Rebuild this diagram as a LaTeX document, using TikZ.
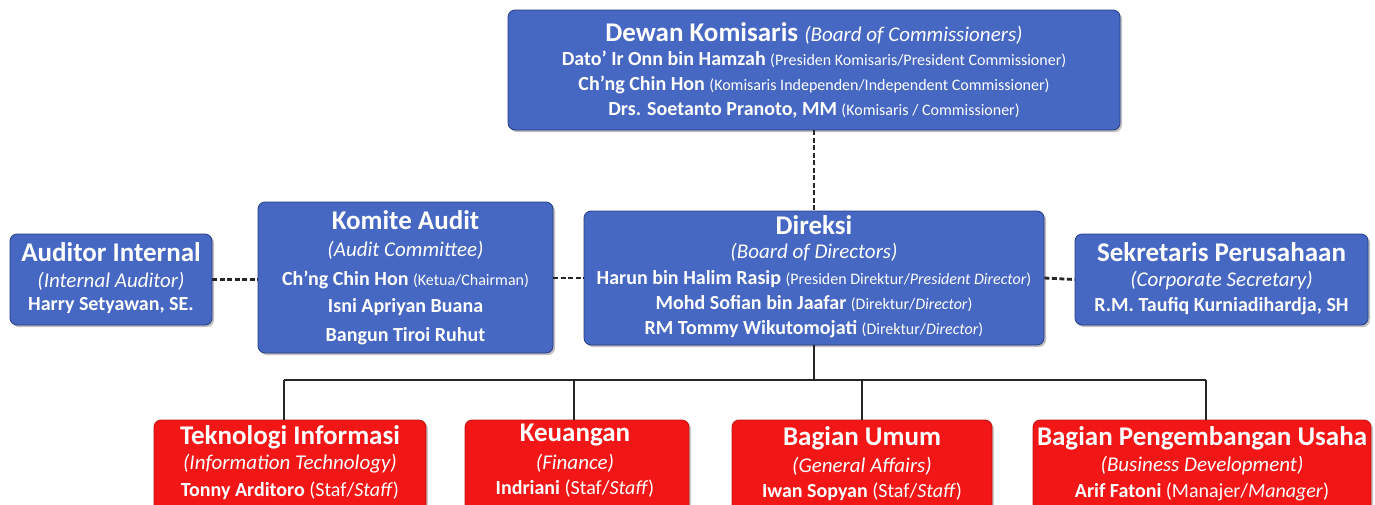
\documentclass[tikz,border=0pt]{standalone}
\usepackage{fontspec}
\setmainfont{Carlito}
\usetikzlibrary{shadows}
\definecolor{blueF}{RGB}{70,103,194}
\definecolor{blueD}{RGB}{40,62,130}
\definecolor{redF}{RGB}{242,22,22}
\definecolor{redD}{RGB}{190,20,20}
\tikzset{
  bluebox/.style={rectangle, rounded corners=7pt, fill=blueF, draw=blueD, line width=0.8pt, drop shadow={shadow xshift=2pt, shadow yshift=-2pt, opacity=0.5}},
  redbox/.style={rectangle, rounded corners=7pt, fill=redF, draw=redD, line width=0.8pt, drop shadow={shadow xshift=2pt, shadow yshift=-2pt, opacity=0.4}},
  ttl/.style={text=white, inner sep=0pt, font=\fontsize{27}{27}\selectfont\bfseries},
  sub/.style={text=white, inner sep=0pt, font=\fontsize{21}{21}\selectfont\itshape},
  nm/.style={text=white, inner sep=0pt, font=\fontsize{20}{20}\selectfont\bfseries},
  dashline/.style={line width=2.8pt, dash pattern=on 5pt off 2.5pt, black!85},
  solidline/.style={line width=2.8pt, black!85},
}
\newcommand{\sm}[1]{{\fontsize{16}{16}\selectfont\mdseries #1}}
\newcommand{\rg}[1]{{\mdseries #1}}
\begin{document}
\begin{tikzpicture}[x=1pt,y=-1pt]
\useasboundingbox (0,0) rectangle (1375,504);
\clip (0,0) rectangle (1375,504);
\fill[white] (0,0) rectangle (1375,504);
% boxes
\node[bluebox, minimum width=612pt, minimum height=120pt] (dk) at (814,70) {};
\node[bluebox, minimum width=202pt, minimum height=91pt] (ai) at (111,279.5) {};
\node[bluebox, minimum width=295pt, minimum height=151pt] (ka) at (405.5,277.5) {};
\node[bluebox, minimum width=460pt, minimum height=134pt] (dr) at (814,278) {};
\node[bluebox, minimum width=293pt, minimum height=91pt] (sp) at (1221.5,279.5) {};
\node[redbox, minimum width=272pt, minimum height=110pt] (ti) at (290,475) {};
\node[redbox, minimum width=224pt, minimum height=110pt] (ku) at (577,475) {};
\node[redbox, minimum width=260pt, minimum height=110pt] (bu) at (862,475) {};
\node[redbox, minimum width=338pt, minimum height=110pt] (bp) at (1202,475) {};
% connectors
\draw[dashline] (dk.south) -- (dr.north);
\draw[dashline] (ai.east) -- (ka.west |- ai.east);
\draw[dashline] (ka.east |- dr.west) -- (dr.west);
\draw[dashline] (dr.east) -- (sp.west);
\coordinate (bus) at (814,380);
\coordinate (bl) at (284,380);
\coordinate (br) at (1206,380);
\coordinate (b2) at (574,380);
\coordinate (b3) at (862,380);
\draw[solidline] (dr.south) -- (bus);
\draw[solidline] (bl) -- (br);
\draw[solidline] (bl) -- (bl |- ti.north);
\draw[solidline] (b2) -- (b2 |- ku.north);
\draw[solidline] (b3) -- (b3 |- bu.north);
\draw[solidline] (br) -- (br |- bp.north);
% Dewan Komisaris text
\node[ttl] (dk1) at (814,33) {Dewan Komisaris \mdseries\itshape\fontsize{21}{21}\selectfont(Board of Commissioners)};
\node[nm] (dk2) at (814,59) {Dato' Ir Onn bin Hamzah \sm{(Presiden Komisaris/President Commissioner)}};
\node[nm] (dk3) at (814,85) {Ch'ng Chin Hon \sm{(Komisaris Independen/Independent Commissioner)}};
\node[nm] (dk4) at (814,110) {Drs. Soetanto Pranoto, MM \sm{(Komisaris / Commissioner)}};
% Auditor Internal
\node[ttl] (ai1) at (111,252) {Auditor Internal};
\node[sub] (ai2) at (111,281) {(Internal Auditor)};
\node[nm] (ai3) at (111,306) {Harry Setyawan, SE.};
% Komite Audit
\node[ttl] (ka1) at (405.5,220) {Komite Audit};
\node[sub] (ka2) at (405.5,250) {(Audit Committee)};
\node[nm] (ka3) at (405.5,280) {Ch'ng Chin Hon \sm{(Ketua/Chairman)}};
\node[nm] (ka4) at (405.5,307) {Isni Apriyan Buana};
\node[nm] (ka5) at (405.5,336) {Bangun Tiroi Ruhut};
% Direksi
\node[ttl] (dr1) at (814,225) {Direksi};
\node[sub] (dr2) at (814,252) {(Board of Directors)};
\node[nm] (dr3) at (814,279) {Harun bin Halim Rasip \sm{(Presiden Direktur/\textit{President Director})}};
\node[nm] (dr4) at (814,304) {Mohd Sofian bin Jaafar \sm{(Direktur/\textit{Director})}};
\node[nm] (dr5) at (814,329) {RM Tommy Wikutomojati \sm{(Direktur/\textit{Director})}};
% Sekretaris
\node[ttl] (sp1) at (1221.5,252) {Sekretaris Perusahaan};
\node[sub] (sp2) at (1221.5,281) {(Corporate Secretary)};
\node[nm] (sp3) at (1221.5,306) {R.M. Taufiq Kurniadihardja, SH};
% red boxes
\node[ttl] (ti1) at (290,437) {Teknologi Informasi};
\node[sub] (ti2) at (290,464) {(Information Technology)};
\node[nm] (ti3) at (290,491) {Tonny Arditoro \rg{(Staf/\textit{Staff})}};
\node[ttl] (ku1) at (575,435) {Keuangan};
\node[sub] (ku2) at (575,463) {(Finance)};
\node[nm] (ku3) at (575,489) {Indriani \rg{(Staf/\textit{Staff})}};
\node[ttl] (bu1) at (862,438) {Bagian Umum};
\node[sub] (bu2) at (862,466) {(General Affairs)};
\node[nm] (bu3) at (862,492) {Iwan Sopyan \rg{(Staf/\textit{Staff})}};
\node[ttl] (bp1) at (1202,438) {Bagian Pengembangan Usaha};
\node[sub] (bp2) at (1202,466) {(Business Development)};
\node[nm] (bp3) at (1202,492) {Arif Fatoni \rg{(Manajer/\textit{Manager})}};
\end{tikzpicture}
\end{document}
